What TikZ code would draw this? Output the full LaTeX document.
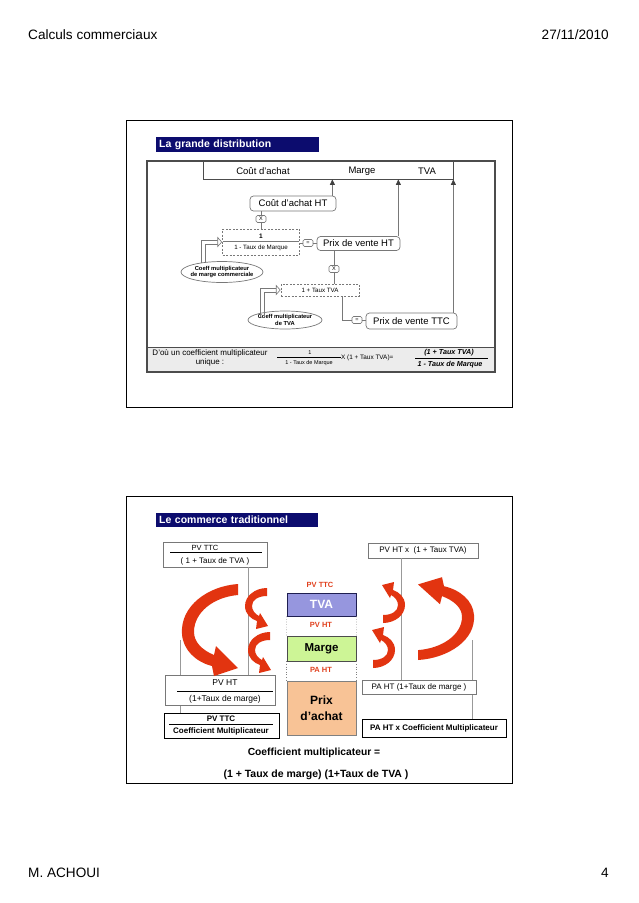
\documentclass[tikz,border=0pt]{standalone}
\usepackage{fontspec}
\setmainfont{Liberation Sans}
\usetikzlibrary{shapes.geometric,arrows.meta,calc}
\definecolor{navybar}{RGB}{12,12,110}
\definecolor{gline}{RGB}{120,120,120}
\definecolor{tvacol}{RGB}{150,150,222}
\definecolor{tvaborder}{RGB}{30,30,80}
\definecolor{margecol}{RGB}{205,245,150}
\definecolor{achatcol}{RGB}{248,195,150}
\definecolor{redlab}{RGB}{225,65,30}
\definecolor{arrowred}{RGB}{226,52,16}
\newcommand{\holarr}[2]{%
 \draw[gline, line width=0.6pt] ($(#1)+(-2,0)$) |- ($(#2)+(-4.5,-2)$);
 \draw[gline, line width=0.6pt] ($(#1)+(2,0)$) |- ($(#2)+(-4.5,2)$);
 \draw[gline, line width=0.6pt, fill=white] ($(#2)+(-4.5,-4.5)$) -- ($(#2)+(-0.5,0)$) -- ($(#2)+(-4.5,4.5)$) -- cycle;}
\tikzset{
 hdr/.style={font=\fontsize{13.6}{16}\selectfont, inner sep=0},
 ttl/.style={fill=navybar, text=white, font=\bfseries\fontsize{10.5}{12}\selectfont, anchor=north west, inner xsep=3pt, inner ysep=0, align=left},
 lbl/.style={inner sep=0},
 rbox/.style={draw=gline, line width=0.7pt, rounded corners=3.5pt, fill=white, inner sep=0, font=\fontsize{9.5}{11}\selectfont},
 dbox/.style={draw=gline, line width=0.6pt, dash pattern=on 2pt off 1.5pt, inner sep=0, fill=white},
 opbox/.style={draw=gline, line width=0.6pt, rounded corners=1.5pt, fill=white, minimum width=10pt, minimum height=7pt, inner sep=0, font=\fontsize{5.5}{6}\selectfont},
 ell/.style={ellipse, draw=gline, line width=0.7pt, fill=white, inner sep=0},
 elltxt/.style={inner sep=0, align=center, font=\bfseries\fontsize{5.8}{6.6}\selectfont},
 conn/.style={draw=gline, line width=0.7pt},
 uparr/.style={conn, -{Triangle[length=5.5pt,width=5pt,color=black!75]}},
 sbox/.style={draw=gline, line width=0.6pt, fill=white, inner sep=0},
 kbox/.style={draw=black, line width=0.9pt, fill=white, inner sep=0},
 redl/.style={text=redlab, font=\bfseries\fontsize{7.5}{9}\selectfont, inner sep=0},
 bigarrow/.pic={\fill[arrowred] (0,0) .. controls (-30,2) and (-58,22) .. (-56,50) .. controls (-55,66) and (-42,78) .. (-26,82) -- (-24,92) -- (0,84) -- (-22,62) -- (-24,71) .. controls (-36,66) and (-44,58) .. (-44,48) .. controls (-44,28) and (-24,13) .. (0,11) -- cycle;},
 smallarrow/.pic={\fill[arrowred] (0,0) .. controls (-12,0) and (-22,8) .. (-22,18) .. controls (-22,26) and (-16,31) .. (-10,33) -- (-11,41) -- (1,38) -- (-7,25) -- (-8,28) .. controls (-12,26) and (-15,22) .. (-15,18) .. controls (-15,12) and (-9,8) .. (0,8) -- cycle;}
}
\begin{document}
\begin{tikzpicture}[x=1pt,y=-1pt]
\useasboundingbox (0,0) rectangle (638,903);
\fill[white] (0,0) rectangle (638,903);

% header / footer
\node[hdr, anchor=base west] (h1) at (28,39) {Calculs commerciaux};
\node[hdr, anchor=base east] (h2) at (609,39) {27/11/2010};
\node[hdr, anchor=base west] (f1) at (28,877) {M. ACHOUI};
\node[hdr, anchor=base east] (f2) at (609,877) {4};

% ================= slide 1 =================
\draw[black, line width=0.6pt] (126,120) rectangle (512,407);
\node[ttl, text width=157pt, minimum height=15pt] (t1) at (156,137) {La grande distribution};
\fill[gray!15] (148,347) rectangle (494,371);
\draw[gray!60!black, line width=0.8pt] (148,347) -- (494,347);
\draw[gray!60!black, line width=1.4pt] (147,161) rectangle (495,372);

\node[draw=gray!60!black, line width=0.8pt, minimum width=250pt, minimum height=18pt, inner sep=0, fill=white] (cost) at (328,170) {};
\node[lbl, font=\fontsize{9.5}{11}\selectfont] (l1) at (263,171) {Coût d'achat};
\node[lbl, font=\fontsize{9.5}{11}\selectfont] (l2) at (362,171) {Marge};
\node[lbl, font=\fontsize{9.5}{11}\selectfont] (l3) at (427,171) {TVA};

\node[rbox, minimum width=86pt, minimum height=15pt] (cah) at (293,203.5) {Coût d'achat HT};
\node[opbox] (x1) at (261,219) {X};
\node[dbox, minimum width=77pt, minimum height=26pt] (d1) at (261,242) {};
\node[lbl, font=\bfseries\fontsize{6.5}{7}\selectfont] (d1n) at (261,236) {1};
\draw[gline, line width=0.4pt] ($(d1.west)+(1,-1)$) -- ($(d1.east)+(-1,-1)$);
\node[lbl, font=\fontsize{6.2}{7}\selectfont] (d1d) at (261,248) {1 - Taux de Marque};
\node[opbox] (eq1) at (308,243) {=};
\node[rbox, minimum width=83pt, minimum height=14pt] (pvht) at (358.5,243.5) {Prix de vente HT};
\node[opbox] (x2) at (334,269) {X};
\node[dbox, minimum width=78pt, minimum height=12pt, font=\fontsize{6.2}{7}\selectfont] (d2) at (320,290) {1 + Taux TVA};
\node[opbox] (eq2) at (357,320) {=};
\node[rbox, minimum width=91pt, minimum height=16pt] (ttc) at (411.5,321) {Prix de vente TTC};

\node[ell, minimum width=82pt, minimum height=21pt] (e1) at (222,272) {};
\node[elltxt] (e1t) at (e1) {Coeff multiplicateur\\de marge commerciale};
\node[ell, minimum width=74pt, minimum height=18pt] (e2) at (285,320) {};
\node[elltxt] (e2t) at (e2) {Coeff multiplicateur\\de TVA};

% connectors
\coordinate (c1) at ($(cah.north east)+(-4,0)$);
\draw[uparr] (c1) -- (c1 |- cost.south);
\coordinate (c2) at ($(pvht.north east)+(-2,0)$);
\draw[uparr] (c2) -- (c2 |- cost.south);
\coordinate (c3) at ($(ttc.north east)+(-4,0)$);
\draw[uparr] (c3) -- (c3 |- cost.south);
\draw[conn] (cah.south -| x1) -- (x1.north);
\draw[conn] (x1.south) -- (d1.north -| x1);
\draw[conn] (d1.east |- eq1) -- (eq1.west);
\draw[conn] (eq1.east) -- (pvht.west |- eq1);
\draw[conn] (pvht.south -| x2) -- (x2.north);
\draw[conn] (x2.south) -- (d2.north -| x2);
\draw[conn] ($(d2.south east)+(-17,0)$) |- (eq2.west);
\draw[conn] (eq2.east) -- (ttc.west |- eq2);
\coordinate (h1s) at ($(e1.north)+(-19,1.5)$);
\holarr{h1s}{d1.west}
\coordinate (h2s) at ($(e2.north)+(-23,6.5)$);
\holarr{h2s}{d2.west}

% bottom band
\node[lbl, align=center, font=\fontsize{8}{8.5}\selectfont] (dou) at (210,358) {D'où un coefficient multiplicateur\\unique :};
\node[lbl, font=\fontsize{5.5}{6}\selectfont] (f1n) at (310,353) {1};
\draw[black, line width=0.5pt] (277,357.5) -- (341,357.5);
\node[lbl, font=\fontsize{5.5}{6}\selectfont] (f1d) at (309,363.5) {1 - Taux de Marque};
\node[lbl, font=\fontsize{6.4}{7}\selectfont, anchor=west] (xx) at (341,358) {X (1 + Taux TVA)=};
\node[lbl, font=\bfseries\itshape\fontsize{7.2}{8}\selectfont] (f2n) at (449,353) {(1 + Taux TVA)};
\draw[black, line width=0.8pt] (415,358.5) -- (488,358.5);
\node[lbl, font=\bfseries\itshape\fontsize{7.2}{8}\selectfont] (f2d) at (450,364.5) {1 - Taux de Marque};

% ================= slide 2 =================
\draw[black, line width=0.6pt] (126,496) rectangle (512,783);
\node[ttl, text width=156pt, minimum height=14pt] (t2) at (156,513) {Le commerce traditionnel};

% connector lines (behind boxes)
\coordinate (lo) at (180,640);
\coordinate (ro) at (472,640);
\node[sbox, minimum width=104pt, minimum height=25pt] (lt) at (215,554.5) {};
\node[sbox, minimum width=110pt, minimum height=15pt, font=\fontsize{8}{9}\selectfont] (rt) at (423,550.5) {PV HT x~ (1 + Taux TVA)};
\node[kbox, minimum width=115pt, minimum height=25pt] (lb) at (221.5,725.5) {};
\node[kbox, minimum width=144pt, minimum height=18pt, font=\bfseries\fontsize{8}{9}\selectfont] (rb) at (434,728) {PA HT x Coefficient Multiplicateur};
\draw[conn, draw=gray!80] (lo) -- (lo |- lb.north);
\draw[conn, draw=gray!80] (ro) -- (ro |- rb.north);
\draw[conn, draw=gray!80] ($(lt.south)+(33,0)$) -- ($(lt.south)+(33,120.5)$);
\draw[conn, draw=gray!80] ($(rt.south)+(-22,0)$) -- ($(rt.south)+(-22,121.5)$);

\node[lbl, font=\fontsize{7.5}{9}\selectfont] (ltn) at (205,547.5) {PV TTC};
\draw[black, line width=0.5pt] (170,552.5) -- (262,552.5);
\node[lbl, font=\fontsize{8}{9}\selectfont] (ltd) at (215,561) {( 1 + Taux de TVA )};

\node[sbox, minimum width=110pt, minimum height=30pt] (pvh) at (220,690) {};
\node[lbl, font=\fontsize{8.5}{9}\selectfont] (pvhn) at (225,683) {PV HT};
\draw[black, line width=0.7pt] (177,691) -- (273,691);
\node[lbl, font=\fontsize{8.5}{9}\selectfont] (pvhd) at (225,699) {(1+Taux de marge)};

\node[lbl, font=\bfseries\fontsize{8}{9}\selectfont] (lbn) at (221,719) {PV TTC};
\draw[black, line width=0.6pt] (169,724.5) -- (273,724.5);
\node[lbl, font=\bfseries\fontsize{8}{9}\selectfont] (lbd) at (221,731) {Coefficient Multiplicateur};

\node[sbox, minimum width=114pt, minimum height=14pt, font=\fontsize{8}{9}\selectfont] (pah) at (419,687) {PA HT (1+Taux de marge )};

% centre column
\node[draw=tvaborder, line width=0.9pt, fill=tvacol, minimum width=69pt, minimum height=23pt, inner sep=0, text=white, font=\bfseries\fontsize{12}{14}\selectfont] (tva) at (321.5,604.5) {TVA};
\node[draw=gray!60!black, line width=0.8pt, fill=margecol, minimum width=69pt, minimum height=25pt, inner sep=0, font=\bfseries\fontsize{11.5}{14}\selectfont] (mar) at (321.5,648.5) {Marge};
\node[draw=gray, line width=0.8pt, fill=achatcol, minimum width=69pt, minimum height=54pt, inner sep=0, align=center, font=\bfseries\fontsize{12}{16}\selectfont] (pa) at (321.5,708) {Prix\\d'achat};
\draw[gray, dotted, line width=0.6pt] (tva.south west) -- (mar.north west);
\draw[gray, dotted, line width=0.6pt] (tva.south east) -- (mar.north east);
\draw[gray, dotted, line width=0.6pt] (mar.south west) -- (pa.north west);
\draw[gray, dotted, line width=0.6pt] (mar.south east) -- (pa.north east);
\node[redl] (rl1) at (320,585) {PV TTC};
\node[redl] (rl2) at (321,625) {PV HT};
\node[redl] (rl3) at (321,670) {PA HT};

% curved arrows
\pic at (238,584) {bigarrow};
\pic at (267,588) {smallarrow};
\pic at (270,632) {smallarrow};
\pic[rotate=180, yscale=0.9] at (418,660) {bigarrow};
\pic[rotate=180] at (383,623) {smallarrow};
\pic[rotate=180] at (373,668) {smallarrow};

\node[lbl, font=\bfseries\fontsize{10.3}{12}\selectfont] (cm1) at (314,753) {Coefficient multiplicateur =};
\node[lbl, font=\bfseries\fontsize{10.5}{12}\selectfont] (cm2) at (316,775) {(1 + Taux de marge) (1+Taux de TVA )};
\end{tikzpicture}
\end{document}
